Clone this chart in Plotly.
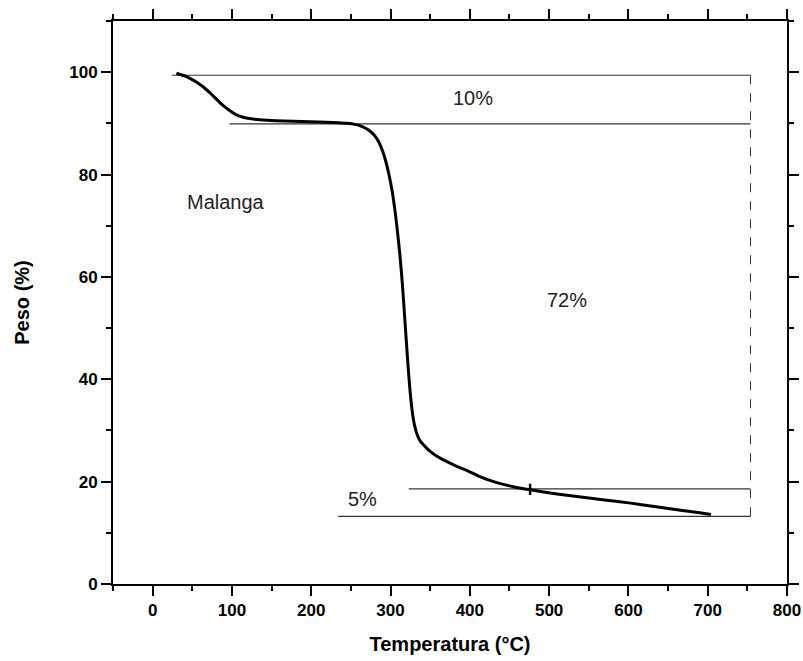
import plotly.graph_objects as go

# TGA curve: Malanga
temp = [30, 40, 47, 56, 64, 72, 80, 88, 97, 105, 114, 124, 135, 155, 177, 199, 219,
        235, 245, 255, 262, 268, 274, 280, 285, 290, 294, 298, 302, 306, 309, 312,
        315, 318, 321, 324, 327, 330, 334, 338, 344, 350, 358, 366, 375, 385,
        396, 411, 434, 455, 476, 510, 540, 570, 603, 635, 666, 690, 704]
weight = [99.8, 99.3, 98.8, 98.0, 97.1, 96.0, 94.8, 93.6, 92.5, 91.7, 91.2, 90.9,
          90.7, 90.5, 90.4, 90.3, 90.2, 90.1, 90.0, 89.8, 89.5, 89.1, 88.5, 87.6,
          86.4, 84.6, 82.6, 80.0, 76.8, 72.5, 68.5, 64.0, 58.5, 51.8, 45.0, 38.8,
          34.2, 31.2, 29.0, 27.8, 26.8, 25.9, 25.0, 24.3, 23.6, 22.9, 22.2, 21.1,
          19.8, 19.0, 18.4, 17.6, 17.0, 16.4, 15.8, 15.1, 14.4, 13.9, 13.6]

# small marker on the curve
mark_x = [476]
mark_y = [18.5]

# horizontal reference levels
ref_levels = [99.4, 89.9, 18.6, 13.2]
ref_starts = [24, 97, 323, 234]
ref_end = 754

# text labels
label_text = ["Malanga", "10%", "72%", "5%"]
label_x = [93, 404, 523, 265]
label_y = [74.6, 94.9, 55.5, 16.6]

FONT = "Liberation Sans, Arial"

fig = go.Figure()

for lvl, st in zip(ref_levels, ref_starts):
    fig.add_trace(go.Scatter(x=[st, ref_end], y=[lvl, lvl], mode="lines",
                             line=dict(color="#333333", width=1.2),
                             showlegend=False, hoverinfo="skip"))

fig.add_trace(go.Scatter(x=[ref_end, ref_end], y=[ref_levels[0], ref_levels[-1]],
                         mode="lines", line=dict(color="#333333", width=1, dash="dash"),
                         showlegend=False, hoverinfo="skip"))

fig.add_trace(go.Scatter(x=temp, y=weight, mode="lines",
                         line=dict(color="black", width=3, shape="spline", smoothing=0.5),
                         showlegend=False))

fig.add_trace(go.Scatter(x=mark_x, y=mark_y, mode="markers",
                         marker=dict(symbol="line-ns-open", size=8, color="black",
                                     line=dict(color="black", width=2.5)),
                         showlegend=False, hoverinfo="skip"))

for t, x, y in zip(label_text, label_x, label_y):
    fig.add_annotation(x=x, y=y, text=t, showarrow=False,
                       font=dict(family=FONT, size=20, color="#222222"))

tick_common = dict(ticks="outside", ticklen=10, tickwidth=2, tickcolor="black",
                   showgrid=False, zeroline=False, automargin=False)

fig.update_xaxes(range=[-50, 800], tick0=0, dtick=100,
                 showline=True, linewidth=2, linecolor="black",
                 minor=dict(ticks="outside", ticklen=5, tickwidth=2, tickcolor="black", dtick=50, tick0=0),
                 tickfont=dict(family=FONT, size=17, color="black", weight="bold"),
                 title=dict(text="Temperatura (°C)", standoff=18,
                            font=dict(family=FONT, size=20, color="black", weight="bold")),
                 **tick_common)
fig.update_yaxes(range=[0, 110], tick0=0, dtick=20,
                 showline=True, linewidth=2, linecolor="black",
                 minor=dict(ticks="outside", ticklen=5, tickwidth=2, tickcolor="black", dtick=10, tick0=0),
                 tickfont=dict(family=FONT, size=17, color="black", weight="bold"),
                 title=dict(text="Peso (%)", standoff=34,
                            font=dict(family=FONT, size=20, color="black", weight="bold")),
                 **tick_common)

# mirrored frame axes (top and right) carrying ticks without labels
fig.update_layout(
    xaxis2=dict(overlaying="x", side="top", range=[-50, 800], tick0=0, dtick=100,
                showline=True, linewidth=2, linecolor="black", showticklabels=False,
                minor=dict(ticks="outside", ticklen=5, tickwidth=2, tickcolor="black", dtick=50, tick0=0),
                **tick_common),
    yaxis2=dict(overlaying="y", side="right", range=[0, 110], tick0=0, dtick=20,
                showline=True, linewidth=2, linecolor="black", showticklabels=False,
                minor=dict(ticks="outside", ticklen=5, tickwidth=2, tickcolor="black", dtick=10, tick0=0),
                **tick_common),
)
# an invisible trace so the mirrored axes are drawn
fig.add_trace(go.Scatter(x=[None], y=[None], xaxis="x2", yaxis="y2",
                         showlegend=False, hoverinfo="skip"))

fig.update_layout(width=803, height=661, margin=dict(l=113, r=16, t=21, b=77),
                  plot_bgcolor="white", paper_bgcolor="white")

fig.write_html("out.html")
